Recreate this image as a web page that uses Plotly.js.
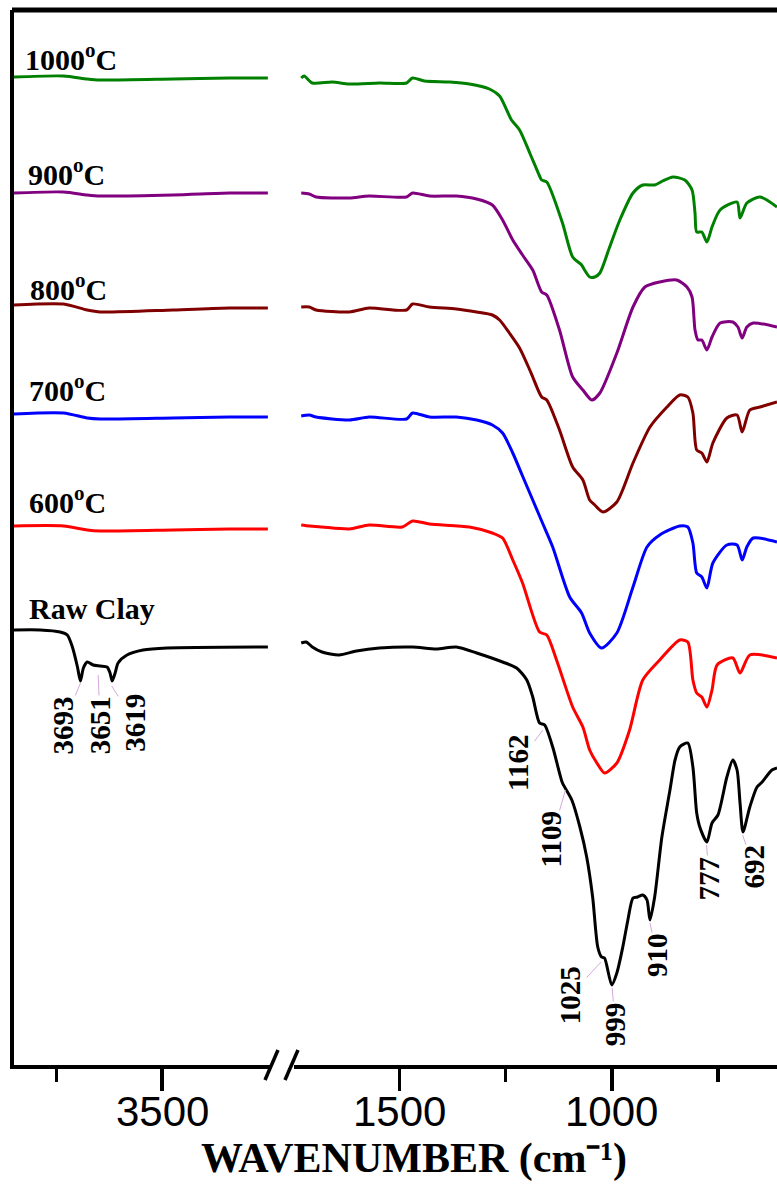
<!DOCTYPE html>
<html>
<head>
<meta charset="utf-8">
<script src="https://cdn.plot.ly/plotly-3.0.1.min.js"></script>
<style>html,body{margin:0;padding:0;background:#fff;}#chart{width:777px;height:1184px;}</style>
</head>
<body>
<div id="chart"></div>
<script>
// ---- Data (wavenumber in cm-1, transmittance in arbitrary offset units) ----
// High-wavenumber segment (left of axis break)
const leftWn = [3850, 3733, 3677, 3646, 3474, 3340, 3250];
const t1000Left = [988, 989, 986, 985, 986, 987, 987];
const t900Left  = [872, 873, 870, 869, 870, 872, 872];
const t800Left  = [760, 761, 755, 753, 755, 757, 757];
const t700Left  = [651, 652, 647, 646, 647, 648, 648];
const t600Left  = [539, 539, 535, 534, 535, 536, 536];

const rawLeftWn = [3850, 3788, 3741, 3724, 3712, 3700, 3693, 3686, 3677, 3663, 3646, 3630, 3623, 3618, 3611, 3604, 3583, 3545, 3488, 3250];
const rawLeft   = [435, 435, 433, 430, 418, 398, 384, 397, 403, 400, 399, 398, 392, 384, 392, 402, 410, 415, 417, 418];

// Low-wavenumber segment (right of axis break)
const t1000Wn = [1731,1724,1705,1658,1618,1547,1483,1469,1441,1382,1335,1288,1264,1236,1217,1193,1170,1165,1153,1116,1092,1071,1064,1052,1040,1028,1005,981,950,927,899,880,856,828,811,804,800,788,776,764,745,705,698,682,651,611];
const t1000    = [987,989,982,983,981,982,982,987,984,983,981,976,969,945,935,912,889,885,883,842,808,800,795,788,788,792,818,845,872,880,880,884,888,885,875,852,833,833,823,838,855,863,847,862,868,858];

const t900Wn = [1731,1712,1696,1618,1571,1483,1469,1429,1366,1318,1281,1257,1233,1210,1186,1165,1153,1123,1092,1068,1047,1028,988,950,922,887,847,823,811,804,797,788,776,764,745,715,703,693,682,667,611];
const t900   = [872,871,868,867,869,868,872,869,869,866,860,845,825,810,795,773,770,735,688,675,665,672,712,758,778,783,785,778,768,735,725,725,715,728,742,743,738,727,738,742,738];

const t800Wn = [1731,1712,1696,1618,1571,1483,1469,1429,1366,1318,1281,1264,1241,1217,1193,1186,1165,1153,1123,1092,1068,1052,1040,1021,988,950,910,870,840,821,809,800,788,776,762,729,705,693,675,651,611];
const t800   = [758,758,755,753,757,755,761,758,756,753,750,745,732,717,695,688,668,665,635,598,585,565,560,553,563,602,638,658,670,668,652,615,612,603,622,647,650,633,655,658,663];

const t700Wn = [1731,1712,1696,1618,1571,1483,1469,1429,1366,1318,1281,1257,1233,1210,1186,1163,1139,1099,1071,1052,1024,988,950,917,887,840,821,809,800,788,776,762,729,705,693,682,667,611];
const t700   = [649,650,648,645,648,646,652,648,648,645,640,632,612,589,565,542,518,468,452,432,417,432,478,518,530,539,538,522,492,488,477,502,520,520,505,518,527,523];

const t600Wn = [1731,1712,1682,1618,1571,1493,1469,1429,1335,1281,1257,1233,1210,1170,1153,1130,1092,1068,1052,1035,1017,988,958,927,887,840,821,809,800,788,776,764,752,715,698,675,611];
const t600   = [540,539,538,536,540,538,544,541,538,532,527,505,482,433,430,405,358,338,315,302,292,302,335,385,405,425,423,385,372,368,358,375,400,407,392,410,407];

const rawWn = [1731,1719,1705,1682,1642,1601,1547,1469,1413,1366,1318,1257,1224,1200,1186,1170,1158,1139,1123,1116,1094,1075,1059,1045,1033,1024,1017,1000,988,974,962,950,939,927,917,910,899,882,863,851,840,821,809,800,792,776,764,750,729,715,705,698,691,675,658,646,623,611];
const raw   = [422,423,418,413,410,414,417,418,416,418,412,403,397,385,368,342,340,318,292,282,265,238,208,168,118,108,107,80,92,118,145,167,168,170,165,145,168,228,275,305,318,322,298,252,237,223,242,250,288,305,295,262,233,258,278,283,295,297];

// Series names and colours
const seriesNames  = ['1000<sup>o</sup>C', '900<sup>o</sup>C', '800<sup>o</sup>C', '700<sup>o</sup>C', '600<sup>o</sup>C', 'Raw Clay'];
const seriesColors = ['#008000', '#800080', '#800000', '#0000ff', '#ff0000', '#000000'];

// Peak labels
const peakLabels = ['3693', '3651', '3619', '1162', '1109', '1025', '999', '910', '777', '692'];
const peakWn     = [3693, 3651, 3619, 1162, 1109, 1025, 999, 910, 777, 692];
const peakVal    = [382, 390, 379, 335, 275, 103, 77, 142, 220, 230];

// Tick labels
const leftTicks = [3500], leftMinor = [3750];
const rightTicks = [1500, 1000], rightMinor = [1250, 750];

// ---- Build traces ----
const leftSets  = [t1000Left, t900Left, t800Left, t700Left, t600Left, rawLeft];
const leftXs    = [leftWn, leftWn, leftWn, leftWn, leftWn, rawLeftWn];
const rightSets = [t1000, t900, t800, t700, t600, raw];
const rightXs   = [t1000Wn, t900Wn, t800Wn, t700Wn, t600Wn, rawWn];

const traces = [];
for (let i = 0; i < 6; i++) {
  traces.push({x: leftXs[i], y: leftSets[i], xaxis: 'x', yaxis: 'y', type: 'scatter', mode: 'lines',
    line: {color: seriesColors[i], width: 3, shape: 'spline', smoothing: 0.7}, hoverinfo: 'skip'});
  traces.push({x: rightXs[i], y: rightSets[i], xaxis: 'x2', yaxis: 'y', type: 'scatter', mode: 'lines',
    line: {color: seriesColors[i], width: 3, shape: 'spline', smoothing: 0.7}, hoverinfo: 'skip'});
}

// ---- Layout ----
const L = 14, T = 10, B = 1065, W = 777;
const plotW = W - L, plotH = B - T;
const px = v => (v - L) / plotW;
const py = v => (B - v) / plotH;

const serif = 'Liberation Serif, Times New Roman, serif';
const sans = 'Liberation Sans, Arial, sans-serif';

const axisCommon = {
  ticks: 'outside', ticklen: 22, tickwidth: 3.5, tickcolor: '#000',
  showline: true, linewidth: 4, linecolor: '#000',
  showgrid: false, zeroline: false, anchor: 'y', showticklabels: false
};

const layout = {
  width: 777, height: 1184,
  margin: {l: L, r: 0, t: T, b: 1184 - B, pad: 0},
  paper_bgcolor: '#fff', plot_bgcolor: '#fff',
  showlegend: false,
  xaxis: Object.assign({}, axisCommon, {
    domain: [0, px(270)], range: [3850, 3245],
    tickvals: leftTicks,
    minor: {tickvals: leftMinor, ticks: 'outside', ticklen: 13, tickwidth: 3.5, tickcolor: '#000', showgrid: false}
  }),
  xaxis2: Object.assign({}, axisCommon, {
    domain: [px(294), 1], range: [1748, 611],
    tickvals: rightTicks,
    minor: {tickvals: rightMinor, ticks: 'outside', ticklen: 13, tickwidth: 3.5, tickcolor: '#000', showgrid: false}
  }),
  yaxis: {
    range: [0, 1055], showline: true, linewidth: 4, linecolor: '#000',
    showticklabels: false, ticks: '', showgrid: false, zeroline: false, anchor: 'x'
  },
  shapes: [
    // top frame
    {type: 'line', xref: 'paper', yref: 'paper', x0: px(12), x1: 1.01, y0: 1, y1: 1, line: {color: '#000', width: 5}},
    // axis break marks
    {type: 'line', xref: 'paper', yref: 'paper', x0: px(265), y0: py(1080), x1: px(278), y1: py(1050), line: {color: '#000', width: 3.5}},
    {type: 'line', xref: 'paper', yref: 'paper', x0: px(285), y0: py(1080), x1: px(298), y1: py(1050), line: {color: '#000', width: 3.5}}
  ],
  annotations: []
};

// Tick labels drawn at tick values
leftTicks.forEach(v => layout.annotations.push({
  xref: 'x', yref: 'paper', x: v, y: py(1111), xanchor: 'center', yanchor: 'middle', showarrow: false,
  text: String(v), font: {family: sans, size: 42, color: '#000'}, borderpad: 0
}));
rightTicks.forEach(v => layout.annotations.push({
  xref: 'x2', yref: 'paper', x: v, y: py(1111), xanchor: 'center', yanchor: 'middle', showarrow: false,
  text: String(v), font: {family: sans, size: 42, color: '#000'}, borderpad: 0
}));

// Series labels
const labelPos = [[23, 57], [26, 172], [28, 287], [27, 388], [27, 500], [27, 608]];
for (let i = 0; i < 6; i++) {
  layout.annotations.push({
    xref: 'paper', yref: 'paper', x: px(labelPos[i][0]), y: py(labelPos[i][1]),
    xanchor: 'left', yanchor: 'middle', showarrow: false,
    text: '<b>' + seriesNames[i] + '</b>',
    font: {family: serif, size: 30, color: '#000'}
  });
}

// Peak labels with leader lines
const peakAx = [-17, 2, 23, -25, -14, -31, 3, 7, 3, 11];
const peakAy = [42, 50, 37, 33, 49, 33, 36, 32, 33, 32];
for (let i = 0; i < peakLabels.length; i++) {
  layout.annotations.push({
    xref: peakWn[i] > 2000 ? 'x' : 'x2', yref: 'y',
    x: peakWn[i], y: peakVal[i],
    text: '<b>' + peakLabels[i] + '</b>', textangle: -90,
    font: {family: serif, size: 29, color: '#000'},
    showarrow: true, arrowhead: 0, arrowwidth: 1, arrowcolor: '#d4a8dc', standoff: 0,
    ax: peakAx[i], ay: peakAy[i], borderpad: 0
  });
}

// Axis title
layout.annotations.push({
  xref: 'paper', yref: 'paper', x: px(414), y: py(1158), xanchor: 'center', yanchor: 'middle',
  showarrow: false, text: '<b>WAVENUMBER (cm⁻¹)</b>',
  font: {family: serif, size: 42, color: '#000'}, borderpad: 0
});

Plotly.newPlot('chart', traces, layout, {displayModeBar: false, staticPlot: true});
</script>
</body>
</html>
